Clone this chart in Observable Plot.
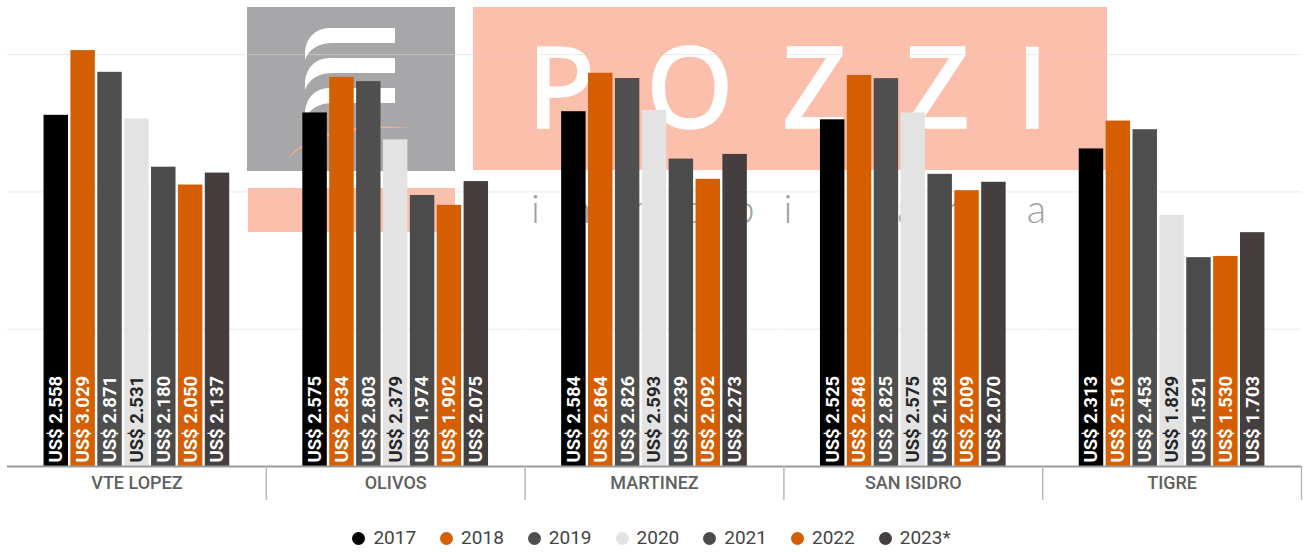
<!DOCTYPE html>
<html>
<head>
<meta charset="utf-8">
<script src="https://cdn.jsdelivr.net/npm/d3@7"></script>
<script src="https://cdn.jsdelivr.net/npm/@observablehq/plot@0.6"></script>
<style>
  body { margin: 0; background: #fff; font-family: Roboto, sans-serif; }
  #wrap { position: relative; width: 1303px; height: 552px; overflow: hidden; }
  #wm { position: absolute; left: 0; top: 0; }
  #chart { position: absolute; left: 0; top: 0; }
  #legend { position: absolute; left: 0; top: 526px; width: 1303px; display: flex; justify-content: center; align-items: center;
            font-family: Roboto, sans-serif; font-size: 19px; color: #444; line-height: 24px; }
  .item { display: flex; align-items: center; margin: 0 12px 0 12px; }
  .dot { width: 13px; height: 13px; border-radius: 50%; margin-right: 8px; }
</style>
</head>
<body>
<div id="wrap">
  <svg id="wm" width="1303" height="552" xmlns="http://www.w3.org/2000/svg">
    <rect x="247" y="7" width="208" height="164" fill="#a7a7a9"/>
    <path d="M395,28 L330,28 C314,28 305,40 305,54 L305,60 C309,49 318,43 334,43 L395,43 Z" fill="#fff"/>
    <path d="M395,58 L330,58 C314,58 305,70 305,84 L305,90 C309,79 318,73 334,73 L395,73 Z" fill="#fff"/>
    <path d="M395,88 L330,88 C314,88 305,100 305,114 L305,120 C309,109 318,103 334,103 L395,103 Z" fill="#fff"/>
    <path d="M288,158 Q318,120 412,128 Q335,126 298,150 Z" fill="#f6ab92"/>
    <rect x="248" y="188" width="207" height="44" fill="#fbbfab"/>
    <rect x="473" y="7" width="634" height="163" fill="#fbbfab"/>
    <text x="528 647 783 906 1017" y="127" font-family="Open Sans, sans-serif" font-size="110" fill="#fff" stroke="#fff" stroke-width="3.5">POZZI</text>
    <text x="531" y="223" font-family="Lato, sans-serif" font-weight="300" font-size="40" fill="#a0a0a0" textLength="515" lengthAdjust="spacing">inmobiliaria</text>
  </svg>
  <div id="chart"></div>
  <div id="legend"></div>
</div>
<script>
// ---- Data ----
const cities = ["VTE LOPEZ", "OLIVOS", "MARTINEZ", "SAN ISIDRO", "TIGRE"];
const years = ["2017", "2018", "2019", "2020", "2021", "2022", "2023*"];
const colors = ["#000000", "#d55f00", "#4f4f4f", "#e3e3e3", "#4b4b4b", "#d55f00", "#443f3e"];

const v2017 = [2558, 2575, 2584, 2525, 2313];
const v2018 = [3029, 2834, 2864, 2848, 2516];
const v2019 = [2871, 2803, 2826, 2825, 2453];
const v2020 = [2531, 2379, 2593, 2575, 1829];
const v2021 = [2180, 1974, 2239, 2128, 1521];
const v2022 = [2050, 1902, 2092, 2009, 1530];
const v2023 = [2137, 2075, 2273, 2070, 1703];
const series = [v2017, v2018, v2019, v2020, v2021, v2022, v2023];

const gridTicks = [1000, 2000, 3000];

const data = cities.flatMap((city, i) =>
  years.map((year, j) => ({ city, year, value: series[j][i] }))
);

const loc = d3.formatLocale({ decimal: ",", thousands: ".", grouping: [3], currency: ["US$ ", ""] });
const fmt = loc.format(",");
const label = d => "US$ " + fmt(d.value);

const W = 1303, ML = 7, MR = 2;
const halfBand = (W - ML - MR) / cities.length / 2;

const chart = Plot.plot({
  width: W,
  height: 510,
  marginLeft: ML,
  marginRight: MR,
  marginTop: 0,
  marginBottom: 44,
  style: { background: "transparent", fontFamily: "Roboto, sans-serif", overflow: "visible" },
  fx: { domain: cities, padding: 0, round: false, label: null },
  x: { domain: years, paddingInner: 0.09, paddingOuter: 1.36, round: false, axis: null },
  y: { domain: [0, 3394], axis: null },
  color: { domain: years, range: colors },
  marks: [
    Plot.gridY(gridTicks, { stroke: "#d8d8d8", strokeOpacity: 0.55 }),
    Plot.barY(data, { fx: "city", x: "year", y: "value", fill: "year" }),
    Plot.text(data, {
      filter: d => d.year !== "2020",
      fx: "city", x: "year", y: 0, text: label,
      rotate: -90, textAnchor: "start", lineAnchor: "middle", dy: -4,
      fill: "#ffffff", fontSize: 18.5, fontWeight: 700
    }),
    Plot.text(data, {
      filter: d => d.year === "2020",
      fx: "city", x: "year", y: 0, text: label,
      rotate: -90, textAnchor: "start", lineAnchor: "middle", dy: -4,
      fill: "#262626", fontSize: 18.5, fontWeight: 700
    }),
    Plot.ruleY([0], { stroke: "#9a9a9a", strokeWidth: 2 }),
    Plot.axisFx({ anchor: "bottom", tickSize: 34, tickFormat: () => "", dx: halfBand,
                  stroke: "#b8b8b8", strokeWidth: 1.5, label: null }),
    Plot.axisFx({ anchor: "bottom", tickSize: 0, tickPadding: 10, fontSize: 18, fontWeight: 500,
                  fill: "#5f5f5f", label: null })
  ]
});
document.getElementById("chart").appendChild(chart);

const legend = document.getElementById("legend");
years.forEach((y, i) => {
  const it = document.createElement("div");
  it.className = "item";
  const dot = document.createElement("span");
  dot.className = "dot";
  dot.style.background = colors[i];
  const t = document.createElement("span");
  t.textContent = y;
  it.appendChild(dot);
  it.appendChild(t);
  legend.appendChild(it);
});
</script>
</body>
</html>
